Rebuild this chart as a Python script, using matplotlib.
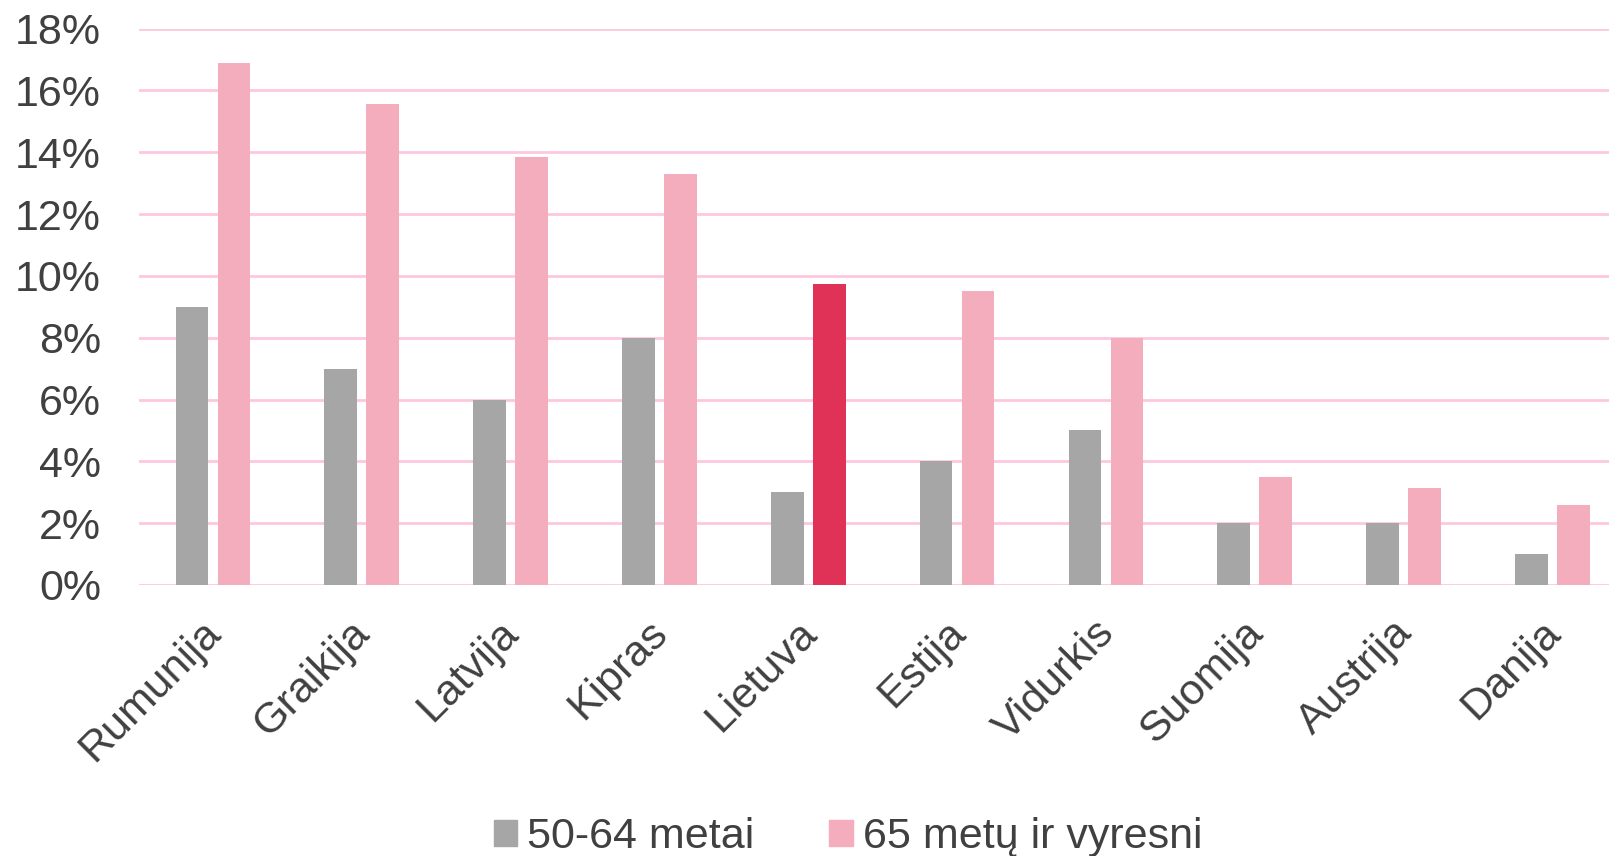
import numpy as np
import matplotlib
matplotlib.use("Agg")
from matplotlib import pyplot as plt
from matplotlib.ticker import PercentFormatter
from matplotlib.patches import Patch
from matplotlib.transforms import ScaledTranslation

# data
countries = ["Rumunija", "Graikija", "Latvija", "Kipras", "Lietuva",
             "Estija", "Vidurkis", "Suomija", "Austrija", "Danija"]
age_50_64 = [9.0, 7.0, 6.0, 8.0, 3.0, 4.0, 5.0, 2.0, 2.0, 1.0]
age_65_plus = [16.9, 15.55, 13.85, 13.3, 9.75, 9.5, 8.0, 3.5, 3.15, 2.6]
series_names = ["50-64 metai", "65 metų ir vyresni"]
highlight = "Lietuva"

gray = "#a6a6a6"
pink = "#f4adbd"
red = "#e03157"
grid_col = "#fdc8df"
txt = "#404040"

plt.rcParams['font.family'] = ['Liberation Sans', 'DejaVu Sans']

fig = plt.figure(figsize=(16.09, 8.56), dpi=100)
ax = fig.add_axes([0.0861, 0.3166, 0.925, 0.65])

x = np.arange(len(countries))
w = 0.22
off = 0.141
pink_cols = [red if c == highlight else pink for c in countries]
ax.bar(x - off, age_50_64, w, color=gray, zorder=3)
ax.bar(x + off, age_65_plus, w, color=pink_cols, zorder=3)

ax.set_xlim(-0.5, len(countries) - 0.5)
ax.set_ylim(0, 18)
ax.set_yticks(np.arange(0, 19, 2))
ax.yaxis.set_major_formatter(PercentFormatter(decimals=0))
ax.grid(axis='y', color=grid_col, linewidth=2, zorder=0)
for s in ax.spines.values():
    s.set_visible(False)
ax.tick_params(length=0, labelsize=31, colors=txt)
ax.tick_params(axis='y', pad=27)

ax.set_xticks(x)
ax.set_xticklabels(countries, rotation=45, ha='right', rotation_mode='anchor')
ax.tick_params(axis='x', pad=20)
shift = ScaledTranslation(-12 / 100, 0, fig.dpi_scale_trans)
for lab in ax.get_xticklabels():
    lab.set_transform(lab.get_transform() + shift)

handles = [Patch(color=gray), Patch(color=pink)]
fig.legend(handles, series_names, loc='center', bbox_to_anchor=(0.527, 0.022),
           ncol=2, frameon=False, fontsize=31, labelcolor=txt,
           handlelength=0.55, handleheight=0.55, handletextpad=0.22,
           columnspacing=1.75)

fig.savefig("out.png", dpi=100)
